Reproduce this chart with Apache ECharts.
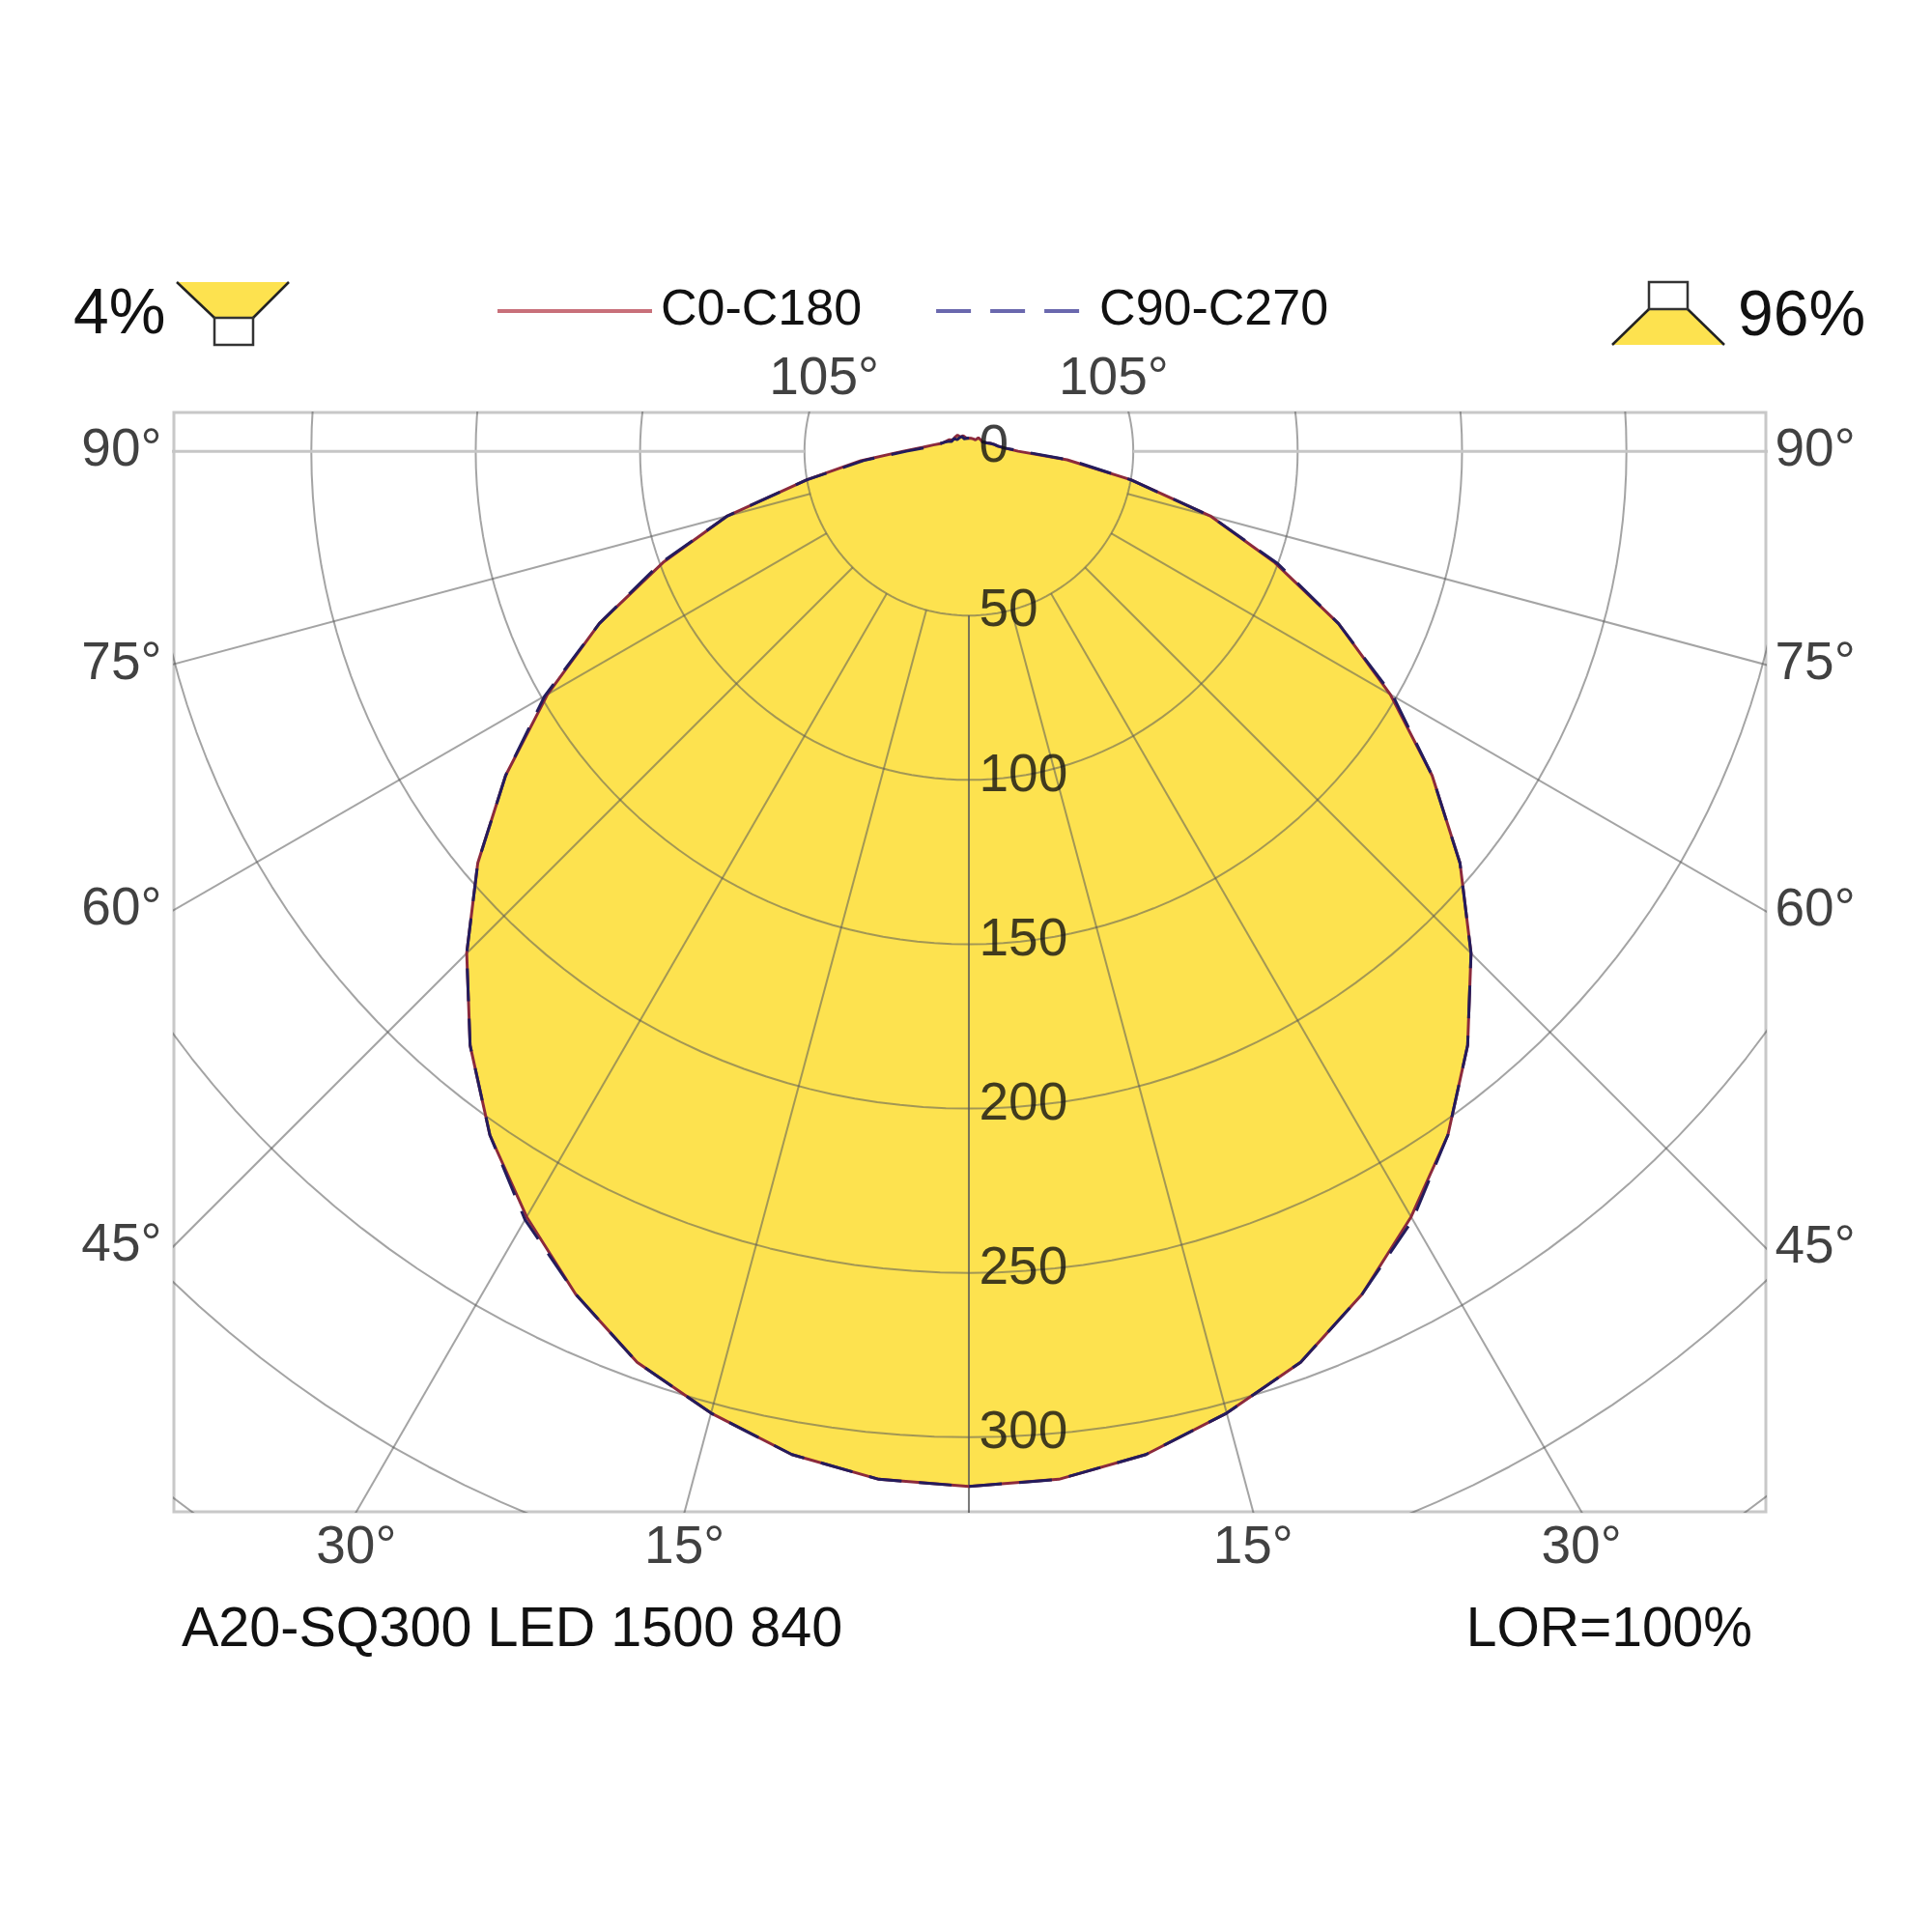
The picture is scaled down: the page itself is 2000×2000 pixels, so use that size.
<!DOCTYPE html>
<html>
<head>
<meta charset="utf-8">
<title>A20-SQ300 LED 1500 840</title>
<script src="https://cdn.jsdelivr.net/npm/echarts@6/dist/echarts.min.js"></script>
<style>
  html, body { margin: 0; padding: 0; background: #ffffff; }
  #chart { width: 2000px; height: 2000px; }
</style>
</head>
<body>
<div id="chart"></div>
<script>
// gamma angle (degrees from nadir) and intensity (cd/klm) per C-plane
var gammaAngles = [0, 5, 10, 15, 20, 25, 30, 35, 40, 45, 50, 55, 60, 65, 70, 75, 80, 85, 90,
                   95, 100, 105, 110, 115, 120, 125, 130, 135, 140, 145, 150, 155, 160, 165, 170, 175, 180];
var c0Values   = [315, 314, 310, 303, 295, 283, 269, 254, 236, 216, 195, 172, 148, 124, 99, 76, 50, 30, 15,
                  11, 9, 8, 7, 6, 6, 5, 5, 5, 5, 5, 4, 4, 4, 4, 4, 4, 4];
var c180Values = [315, 314, 310, 303, 295, 283, 269, 254, 236, 216, 195, 172, 148, 124, 99, 76, 50, 33, 20,
                  14, 11, 9, 8, 7, 7, 6, 6, 6, 6, 6, 5, 5, 5, 4, 4, 4, 4];
var c90Values  = [315, 314, 310, 303, 295, 283, 270, 254, 236, 216, 195, 172, 149, 124, 100, 76, 50, 31, 16,
                  11, 9, 8, 7, 6, 6, 5, 5, 5, 5, 5, 4, 4, 4, 4, 4, 4, 4];
var c270Values = [315, 314, 310, 303, 295, 283, 270, 254, 236, 216, 195, 172, 149, 124, 100, 76, 50, 32, 19,
                  13, 10, 9, 8, 7, 6, 6, 6, 5, 5, 5, 5, 5, 4, 4, 4, 4, 4];

// grid: intensity circles, gamma rays and labelled angles
var radiusTicks = [0, 50, 100, 150, 200, 250, 300];
var gridCircles = [50, 100, 150, 200, 250, 300, 350, 400];
var rayAngles = [0, 15, 30, 45, 60, 75, 90, 105];
var sideAngleLabels = [45, 60, 75, 90];
var bottomAngleLabels = [15, 30];
var topAngleLabels = [105];

// visible window of the diagram, in cd/klm around the lamp centre
var X_MIN = -241.8, X_MAX = 242.4, Y_MIN = -322.7, Y_MAX = 11.8;

var FONT = '"Liberation Sans", Arial, sans-serif';
var TEXT_COLOR = '#111111';
var FILL = '#fde24f';
var GRID_LINE = 'rgba(90,90,90,0.55)';

function rad(deg) { return deg * Math.PI / 180; }

// side = -1 draws to the left of the nadir, +1 to the right
function planePoint(gamma, value, side) {
  return [side * value * Math.sin(rad(gamma)), -value * Math.cos(rad(gamma))];
}

function planeCurve(leftValues, rightValues) {
  var pts = [];
  for (var i = gammaAngles.length - 1; i >= 0; i--)
    pts.push(planePoint(gammaAngles[i], leftValues[i], -1));
  for (var j = 1; j < gammaAngles.length; j++)
    pts.push(planePoint(gammaAngles[j], rightValues[j], 1));
  return pts;
}

var curveC0 = planeCurve(c180Values, c0Values);
var curveC90 = planeCurve(c270Values, c90Values);

function circlePoints(r) {
  var pts = [];
  for (var a = 0; a <= 360; a += 2)
    pts.push([r * Math.sin(rad(a)), r * Math.cos(rad(a))]);
  return pts;
}

// where a gamma ray leaves the visible window
function borderHit(gamma, side) {
  var dx = side * Math.sin(rad(gamma));
  var dy = -Math.cos(rad(gamma));
  var tx = Math.abs(dx) > 1e-9 ? (side > 0 ? X_MAX : X_MIN) / dx : Infinity;
  var ty = Math.abs(dy) > 1e-9 ? (dy < 0 ? Y_MIN : Y_MAX) / dy : Infinity;
  var t = Math.min(tx, ty);
  return [dx * t, dy * t];
}

var series = [];

// yellow body of the distribution
series.push({
  type: 'custom',
  coordinateSystem: 'cartesian2d',
  silent: true,
  z: 1,
  data: [[0, 0]],
  renderItem: function (params, api) {
    var pts = curveC0.map(function (p) { return api.coord(p); });
    return { type: 'polygon', shape: { points: pts }, style: { fill: FILL, stroke: null } };
  }
});

gridCircles.forEach(function (r) {
  series.push({
    type: 'line', silent: true, symbol: 'none', z: 2, clip: true,
    data: circlePoints(r),
    lineStyle: { color: GRID_LINE, width: 2 }
  });
});

rayAngles.forEach(function (g) {
  [-1, 1].forEach(function (side) {
    series.push({
      type: 'line', silent: true, symbol: 'none', z: 2, clip: true,
      data: [planePoint(g, 50, side), planePoint(g, 600, side)],
      lineStyle: g === 90 ? { color: '#c6c6c6', width: 3 } : { color: GRID_LINE, width: 2 }
    });
  });
});

series.push({
  name: 'C0-C180', type: 'line', silent: true, symbol: 'none', z: 3,
  data: curveC0,
  itemStyle: { color: '#c8707a' },
  lineStyle: { color: '#8c2a3c', width: 3 }
});
series.push({
  name: 'C90-C270', type: 'line', silent: true, symbol: 'none', z: 4,
  data: curveC90,
  itemStyle: { color: '#6a68ae' },
  lineStyle: { color: '#241c5c', width: 3, type: [34, 18] }
});

// intensity labels along the nadir
series.push({
  type: 'scatter', silent: true, z: 5, clip: false, symbolSize: 1,
  itemStyle: { color: 'transparent' },
  data: radiusTicks.map(function (v) { return { value: [0, -v], name: String(v) }; }),
  label: {
    show: true, position: 'right', distance: 10, offset: [0, -4],
    formatter: '{b}', color: TEXT_COLOR, fontSize: 55, fontFamily: FONT
  }
});

// angle labels around the frame
var angleLabelData = [];
sideAngleLabels.forEach(function (g) {
  angleLabelData.push({ value: borderHit(g, -1), name: g + '°', label: { position: 'left', distance: 12 } });
  angleLabelData.push({ value: borderHit(g, 1), name: g + '°', label: { position: 'right', distance: 9 } });
});
bottomAngleLabels.forEach(function (g) {
  angleLabelData.push({ value: borderHit(g, -1), name: g + '°', label: { position: 'bottom', distance: 10 } });
  angleLabelData.push({ value: borderHit(g, 1), name: g + '°', label: { position: 'bottom', distance: 10 } });
});
topAngleLabels.forEach(function (g) {
  angleLabelData.push({ value: borderHit(g, -1), name: g + '°', label: { position: 'top', distance: 6 } });
  angleLabelData.push({ value: borderHit(g, 1), name: g + '°', label: { position: 'top', distance: 6 } });
});
series.push({
  type: 'scatter', silent: true, z: 5, clip: false, symbolSize: 1,
  itemStyle: { color: 'transparent' },
  data: angleLabelData,
  label: { show: true, formatter: '{b}', color: TEXT_COLOR, fontSize: 55, fontFamily: FONT }
});

function textEl(x, y, text, size, align) {
  return {
    type: 'text', x: x, y: y, z: 10,
    style: { text: text, fill: TEXT_COLOR, font: size + 'px ' + FONT, align: align, verticalAlign: 'middle' }
  };
}

var graphic = [
  textEl(76, 327, '4%', 66, 'left'),
  textEl(1799, 329, '96%', 66, 'left'),
  textEl(188, 1688, 'A20-SQ300 LED 1500 840', 57.5, 'left'),
  textEl(1814, 1688, 'LOR=100%', 57, 'right'),
  // downward light icon (left)
  { type: 'polygon', z: 10, shape: { points: [[183, 292], [299, 292], [262, 329], [222, 329]] },
    style: { fill: FILL, stroke: null } },
  { type: 'polyline', z: 11, shape: { points: [[183, 292], [222, 329]] }, style: { stroke: '#222', lineWidth: 2.5, fill: null } },
  { type: 'polyline', z: 11, shape: { points: [[299, 292], [262, 329]] }, style: { stroke: '#222', lineWidth: 2.5, fill: null } },
  { type: 'rect', z: 11, shape: { x: 222, y: 329, width: 40, height: 28 }, style: { fill: '#fff', stroke: '#333', lineWidth: 2.5 } },
  // upward light icon (right)
  { type: 'polygon', z: 10, shape: { points: [[1707, 320], [1747, 320], [1785, 357], [1669, 357]] },
    style: { fill: FILL, stroke: null } },
  { type: 'polyline', z: 11, shape: { points: [[1707, 320], [1669, 357]] }, style: { stroke: '#222', lineWidth: 2.5, fill: null } },
  { type: 'polyline', z: 11, shape: { points: [[1747, 320], [1785, 357]] }, style: { stroke: '#222', lineWidth: 2.5, fill: null } },
  { type: 'rect', z: 11, shape: { x: 1707, y: 292, width: 40, height: 28 }, style: { fill: '#fff', stroke: '#333', lineWidth: 2.5 } }
];

var chart = echarts.init(document.getElementById('chart'), null, { renderer: 'canvas' });
chart.setOption({
  animation: false,
  backgroundColor: '#ffffff',
  grid: {
    left: 180, right: 172, top: 427, bottom: 435,
    show: true, borderColor: '#c8c8c8', borderWidth: 3, backgroundColor: 'transparent'
  },
  xAxis: { type: 'value', min: X_MIN, max: X_MAX, show: false },
  yAxis: { type: 'value', min: Y_MIN, max: Y_MAX, show: false },
  legend: {
    left: 508, top: 287,
    selectedMode: false,
    itemWidth: 160, itemHeight: 14, itemGap: 75,
    textStyle: { color: TEXT_COLOR, fontSize: 52, fontFamily: FONT, lineHeight: 60, padding: [0, 0, 0, 4] },
    data: [
      { name: 'C0-C180', itemStyle: { color: 'transparent', borderColor: 'transparent', borderWidth: 0 },
        lineStyle: { color: '#c8707a', width: 4, type: 'solid' } },
      { name: 'C90-C270', itemStyle: { color: 'transparent', borderColor: 'transparent', borderWidth: 0 },
        lineStyle: { color: '#6a68ae', width: 4, type: [36, 20] } }
    ]
  },
  graphic: graphic,
  series: series
});
</script>
</body>
</html>
